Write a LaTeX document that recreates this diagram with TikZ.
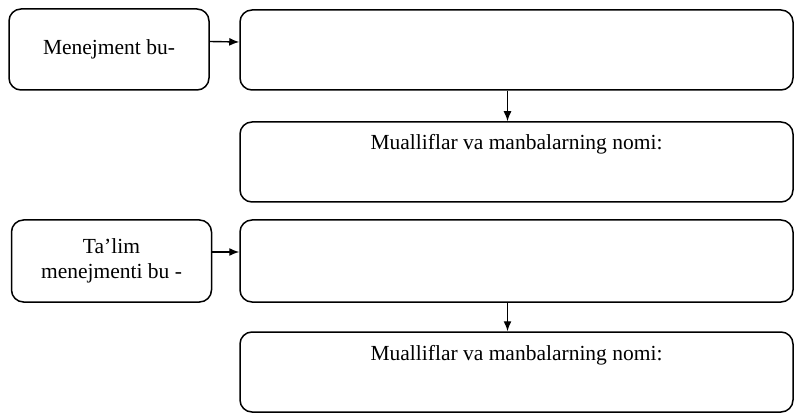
\documentclass[tikz,border=0pt]{standalone}
\usepackage{fontspec}
\setmainfont{Liberation Serif}
\usetikzlibrary{positioning,arrows.meta}

\tikzset{
  boite/.style={draw,line width=1.5pt,rounded corners=12pt,inner sep=0pt},
  grande/.style={boite,minimum width=553pt,minimum height=80pt},
  petite/.style={boite,minimum width=200pt,minimum height=81pt,align=center},
  source/.style={grande,text height=28pt,text depth=52pt}
}

\begin{document}
\begin{tikzpicture}[x=1pt,y=-1pt,font=\fontsize{21.5}{25}\selectfont]
\useasboundingbox (0,0) rectangle (795,414);
% premier bloc
\node[petite] (menej) at (109,49.5) {Menejment bu-};
\node[grande] (def1) at (516.5,50) {};
\node[source] (src1) at (516.5,162) {Mualliflar va manbalarning nomi:};
% second bloc
\node[petite,minimum height=82pt] (talim) at (111.5,261) {Ta'lim\\menejmenti bu -};
\node[grande,minimum height=82pt] (def2) at (516.5,261) {};
\node[source] (src2) at (516.5,372) {Mualliflar va manbalarning nomi:};
% fleches
\draw [line width=1.4pt,->,>={Latex[length=10pt,width=8pt]}] ([yshift=8pt]menej.east) -- ([yshift=8pt]def1.west);
\draw [line width=1.4pt,->,>={Latex[length=10pt,width=8pt]}] ([xshift=-9pt]def1.south) -- ([xshift=-9pt]src1.north);
\draw [line width=1.4pt,->,>={Latex[length=10pt,width=8pt]}] ([yshift=9pt]talim.east) -- ([yshift=9pt]def2.west);
\draw [line width=1.4pt,->,>={Latex[length=10pt,width=8pt]}] ([xshift=-9pt]def2.south) -- ([xshift=-9pt]src2.north);
\end{tikzpicture}
\end{document}
